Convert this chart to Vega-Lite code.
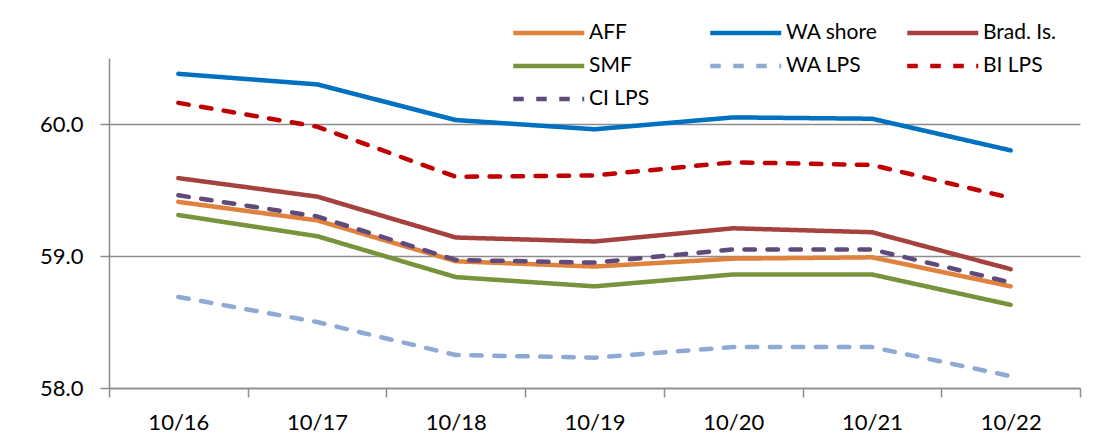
{
  "$schema": "https://vega.github.io/schema/vega-lite/v6.json",
  "width": 971,
  "height": 330,
  "autosize": "none",
  "padding": {"left": 109, "top": 58, "right": 15, "bottom": 50},
  "background": "white",
  "config": {
    "font": "Lato",
    "view": {"stroke": null},
    "axis": {"labelFont": "Lato", "labelColor": "black", "domainColor": "#8c8c8c", "tickColor": "#8c8c8c", "gridColor": "#8c8c8c", "domainWidth": 1.5, "tickWidth": 1.5, "gridWidth": 1.5}
  },
  "data": {
    "values": [
      {"date": "10/16", "series": "AFF", "value": 59.41},
      {"date": "10/17", "series": "AFF", "value": 59.27},
      {"date": "10/18", "series": "AFF", "value": 58.96},
      {"date": "10/19", "series": "AFF", "value": 58.92},
      {"date": "10/20", "series": "AFF", "value": 58.98},
      {"date": "10/21", "series": "AFF", "value": 58.99},
      {"date": "10/22", "series": "AFF", "value": 58.77},
      {"date": "10/16", "series": "WA shore", "value": 60.38},
      {"date": "10/17", "series": "WA shore", "value": 60.30},
      {"date": "10/18", "series": "WA shore", "value": 60.03},
      {"date": "10/19", "series": "WA shore", "value": 59.96},
      {"date": "10/20", "series": "WA shore", "value": 60.05},
      {"date": "10/21", "series": "WA shore", "value": 60.04},
      {"date": "10/22", "series": "WA shore", "value": 59.80},
      {"date": "10/16", "series": "Brad. Is.", "value": 59.59},
      {"date": "10/17", "series": "Brad. Is.", "value": 59.45},
      {"date": "10/18", "series": "Brad. Is.", "value": 59.14},
      {"date": "10/19", "series": "Brad. Is.", "value": 59.11},
      {"date": "10/20", "series": "Brad. Is.", "value": 59.21},
      {"date": "10/21", "series": "Brad. Is.", "value": 59.18},
      {"date": "10/22", "series": "Brad. Is.", "value": 58.90},
      {"date": "10/16", "series": "SMF", "value": 59.31},
      {"date": "10/17", "series": "SMF", "value": 59.15},
      {"date": "10/18", "series": "SMF", "value": 58.84},
      {"date": "10/19", "series": "SMF", "value": 58.77},
      {"date": "10/20", "series": "SMF", "value": 58.86},
      {"date": "10/21", "series": "SMF", "value": 58.86},
      {"date": "10/22", "series": "SMF", "value": 58.63},
      {"date": "10/16", "series": "WA LPS", "value": 58.69},
      {"date": "10/17", "series": "WA LPS", "value": 58.50},
      {"date": "10/18", "series": "WA LPS", "value": 58.25},
      {"date": "10/19", "series": "WA LPS", "value": 58.23},
      {"date": "10/20", "series": "WA LPS", "value": 58.31},
      {"date": "10/21", "series": "WA LPS", "value": 58.31},
      {"date": "10/22", "series": "WA LPS", "value": 58.09},
      {"date": "10/16", "series": "BI LPS", "value": 60.16},
      {"date": "10/17", "series": "BI LPS", "value": 59.98},
      {"date": "10/18", "series": "BI LPS", "value": 59.60},
      {"date": "10/19", "series": "BI LPS", "value": 59.61},
      {"date": "10/20", "series": "BI LPS", "value": 59.71},
      {"date": "10/21", "series": "BI LPS", "value": 59.69},
      {"date": "10/22", "series": "BI LPS", "value": 59.44},
      {"date": "10/16", "series": "CI LPS", "value": 59.46},
      {"date": "10/17", "series": "CI LPS", "value": 59.30},
      {"date": "10/18", "series": "CI LPS", "value": 58.97},
      {"date": "10/19", "series": "CI LPS", "value": 58.95},
      {"date": "10/20", "series": "CI LPS", "value": 59.05},
      {"date": "10/21", "series": "CI LPS", "value": 59.05},
      {"date": "10/22", "series": "CI LPS", "value": 58.80}
    ]
  },
  "mark": {"type": "line", "strokeWidth": 4.5, "strokeCap": "round", "strokeJoin": "round"},
  "encoding": {
    "x": {
      "field": "date", "type": "ordinal", "bandPosition": 0.5,
      "scale": {"type": "band", "paddingInner": 0, "paddingOuter": 0},
      "axis": {"title": null, "labelAngle": 0, "labelFontSize": 22, "tickSize": 9, "tickBand": "extent", "labelPadding": 15, "grid": false}
    },
    "y": {
      "field": "value", "type": "quantitative",
      "scale": {"domain": [58, 60.5], "nice": false, "zero": false},
      "axis": {"title": null, "values": [58, 59, 60], "format": ".1f", "labelFontSize": 22, "tickSize": 9, "labelPadding": 17, "grid": true}
    },
    "color": {
      "field": "series", "type": "nominal",
      "scale": {
        "domain": ["AFF", "WA shore", "Brad. Is.", "SMF", "WA LPS", "BI LPS", "CI LPS"],
        "range": ["#E0823D", "#0070C0", "#A5423F", "#77933C", "#8EA9D3", "#C00000", "#604A7B"]
      },
      "legend": {
        "title": null, "orient": "none", "legendX": 402, "legendY": -45, "columns": 3, "direction": "horizontal", "gridAlign": "all",
        "columnPadding": 20, "rowPadding": 3, "symbolType": "M-1,0H3", "symbolSize": 1260, "symbolStrokeWidth": 4.5,
        "labelFontSize": 21, "labelFont": "Lato", "labelColor": "black", "labelOffset": 38, "labelLimit": 200
      }
    },
    "strokeDash": {
      "field": "series", "type": "nominal",
      "scale": {
        "domain": ["AFF", "WA shore", "Brad. Is.", "SMF", "WA LPS", "BI LPS", "CI LPS"],
        "range": [[1, 0], [1, 0], [1, 0], [1, 0], [10.5, 12.5], [10.5, 12.5], [10.5, 12.5]]
      },
      "legend": null
    }
  }
}
